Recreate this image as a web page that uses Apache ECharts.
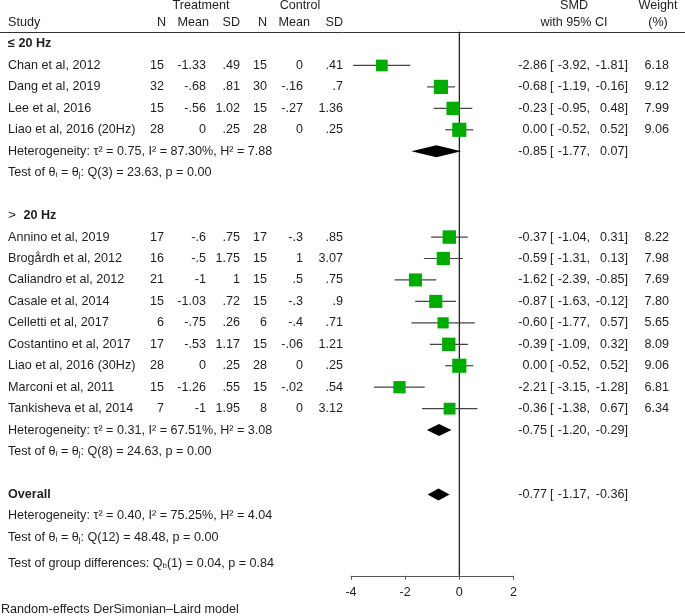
<!DOCTYPE html>
<html><head><meta charset="utf-8">
<script src="https://cdn.jsdelivr.net/npm/echarts@6/dist/echarts.min.js"></script>
<style>html,body{margin:0;padding:0;background:#fff}#c{width:685px;height:616px}</style>
</head><body><div id="c"></div>
<script>
// ---------------- data ----------------
const groupLabels = ['≤ 20 Hz', '> 20 Hz'];
const studies = ['Chan et al, 2012','Dang et al, 2019','Lee et al, 2016','Liao et al, 2016 (20Hz)',
  'Annino et al, 2019','Brogårdh et al, 2012','Caliandro et al, 2012','Casale et al, 2014',
  'Celletti et al, 2017','Costantino et al, 2017','Liao et al, 2016 (30Hz)','Marconi et al, 2011',
  'Tankisheva et al, 2014'];
const studyGroup = [0,0,0,0,1,1,1,1,1,1,1,1,1];
const trtN    = [15,32,15,28,17,16,21,15,6,17,28,15,7];
const trtMean = [-1.33,-0.68,-0.56,0,-0.6,-0.5,-1,-1.03,-0.75,-0.53,0,-1.26,-1];
const trtSD   = [0.49,0.81,1.02,0.25,0.75,1.75,1,0.72,0.26,1.17,0.25,0.55,1.95];
const ctlN    = [15,30,15,28,17,15,15,15,6,15,28,15,8];
const ctlMean = [0,-0.16,-0.27,0,-0.3,1,0.5,-0.3,-0.4,-0.06,0,-0.02,0];
const ctlSD   = [0.41,0.7,1.36,0.25,0.85,3.07,0.75,0.9,0.71,1.21,0.25,0.54,3.12];
const smd     = [-2.86,-0.68,-0.23,0.00,-0.37,-0.59,-1.62,-0.87,-0.60,-0.39,0.00,-2.21,-0.36];
const ciLow   = [-3.92,-1.19,-0.95,-0.52,-1.04,-1.31,-2.39,-1.63,-1.77,-1.09,-0.52,-3.15,-1.38];
const ciHigh  = [-1.81,-0.16,0.48,0.52,0.31,0.13,-0.85,-0.12,0.57,0.32,0.52,-1.28,0.67];
const weight  = [6.18,9.12,7.99,9.06,8.22,7.98,7.69,7.80,5.65,8.09,9.06,6.81,6.34];
const groupSMD  = [-0.85,-0.75];
const groupLow  = [-1.77,-1.20];
const groupHigh = [0.07,-0.29];
const overallSMD = -0.77, overallLow = -1.17, overallHigh = -0.36;
const hetText = ['Heterogeneity: τ² = 0.75, I² = 87.30%, H² = 7.88',
                 'Heterogeneity: τ² = 0.31, I² = 67.51%, H² = 3.08',
                 'Heterogeneity: τ² = 0.40, I² = 75.25%, H² = 4.04'];
const qText = ['Q(3) = 23.63, p = 0.00','Q(8) = 24.63, p = 0.00','Q(12) = 48.48, p = 0.00'];
const groupDiffText = '(1) = 0.04, p = 0.84';
const xTicks = [-4,-2,0,2];
const footnote = 'Random-effects DerSimonian–Laird model';

// ---------------- layout ----------------
const FONT = "'Liberation Sans', Arial, Helvetica, sans-serif";
const FS = 12.6;
const TXT = '#1e1e1e';
const ROW0 = 44, STEP = 21.45, TOP = 31.75, BOTTOM = 575.75;
const yMin = (TOP - ROW0) / STEP, yMax = (BOTTOM - ROW0) / STEP;
const COL = {name: 8, tN: 164, tM: 206, tS: 240, cN: 267, cM: 303, cS: 343,
             est: 547, br: 550, lo: 590, hi: 628, w: 669};

const fmtS = v => String(v).replace(/^(-?)0\./, '$1.');
const f2 = v => v.toFixed(2);

// build row list
const rows = [];
let r = 0;
[0, 1].forEach(g => {
  rows.push({row: r++, type: 'group', g});
  studies.forEach((s, i) => { if (studyGroup[i] === g) rows.push({row: r++, type: 'study', i}); });
  rows.push({row: r++, type: 'het', text: hetText[g], est: groupSMD[g], lo: groupLow[g], hi: groupHigh[g]});
  rows.push({row: r++, type: 'test', text: qText[g]});
  r++;
});
rows.push({row: r++, type: 'overall', est: overallSMD, lo: overallLow, hi: overallHigh});
rows.push({row: r++, type: 'het', text: hetText[2]});
rows.push({row: r++, type: 'test', text: qText[2]});
rows.push({row: r + 0.2, type: 'diff'});

const rich = {
  s: {fontSize: 8, fontFamily: FONT, fill: TXT, color: TXT, verticalAlign: 'bottom', padding: [4, 0, 0, 0]},
  b: {fontSize: FS, fontFamily: FONT, fontWeight: 'bold', color: TXT},
  n: {fontSize: FS + 1, fontFamily: FONT, color: TXT}
};

function T(x, y, text, align, extra) {
  return {type: 'text', x, y, silent: true,
    style: Object.assign({text, fill: TXT, fontSize: FS, fontFamily: FONT,
      align: align || 'left', verticalAlign: 'middle', rich}, extra || {})};
}
function ciTexts(y, est, lo, hi, children) {
  children.push(T(COL.est, y, f2(est), 'right'));
  children.push(T(COL.br, y, '[', 'left'));
  children.push(T(COL.lo, y, f2(lo) + ',', 'right'));
  children.push(T(COL.hi, y, f2(hi) + ']', 'right'));
}
function diamond(api, row, est, lo, hi, y) {
  const a = api.coord([lo, row])[0], c = api.coord([est, row])[0], b = api.coord([hi, row])[0];
  return {type: 'polygon', shape: {points: [[a, y], [c, y - 6], [b, y], [c, y + 6]]},
          style: {fill: '#000'}};
}

function renderRow(params, api) {
  const d = rows[params.dataIndex];
  const y = api.coord([0, d.row])[1];
  const ch = [];
  if (d.type === 'group') {
    if (d.g === 0) ch.push(T(COL.name, y, '{b|' + groupLabels[0] + '}'));
    else ch.push(T(COL.name, y, '{n|' + groupLabels[1].slice(0, 1) + '  }{b|' + groupLabels[1].slice(2) + '}'));
  } else if (d.type === 'study') {
    const i = d.i;
    ch.push(T(COL.name, y, studies[i]));
    ch.push(T(COL.tN, y, String(trtN[i]), 'right'));
    ch.push(T(COL.tM, y, fmtS(trtMean[i]), 'right'));
    ch.push(T(COL.tS, y, fmtS(trtSD[i]), 'right'));
    ch.push(T(COL.cN, y, String(ctlN[i]), 'right'));
    ch.push(T(COL.cM, y, fmtS(ctlMean[i]), 'right'));
    ch.push(T(COL.cS, y, fmtS(ctlSD[i]), 'right'));
    ciTexts(y, smd[i], ciLow[i], ciHigh[i], ch);
    ch.push(T(COL.w, y, f2(weight[i]), 'right'));
    const x1 = api.coord([ciLow[i], d.row])[0], x2 = api.coord([ciHigh[i], d.row])[0];
    const xc = api.coord([smd[i], d.row])[0];
    ch.push({type: 'line', shape: {x1, y1: y, x2, y2: y}, style: {stroke: '#444', lineWidth: 1.2}});
    const s = 4.7 * Math.sqrt(weight[i]);
    ch.push({type: 'rect', shape: {x: xc - s / 2, y: y - s / 2, width: s, height: s}, style: {fill: '#00AC00'}});
  } else if (d.type === 'het') {
    ch.push(T(COL.name, y, d.text));
    if (d.est !== undefined) {
      ch.push(diamond(api, d.row, d.est, d.lo, d.hi, y));
      ciTexts(y, d.est, d.lo, d.hi, ch);
    }
  } else if (d.type === 'test') {
    ch.push(T(COL.name, y, 'Test of θ{s|i} = θ{s|j}: ' + d.text));
  } else if (d.type === 'overall') {
    ch.push(T(COL.name, y, '{b|Overall}'));
    ch.push(diamond(api, d.row, d.est, d.lo, d.hi, y));
    ciTexts(y, d.est, d.lo, d.hi, ch);
  } else if (d.type === 'diff') {
    ch.push(T(COL.name, y, 'Test of group differences: Q{s|b}' + groupDiffText));
  }
  return {type: 'group', children: ch};
}

const chart = echarts.init(document.getElementById('c'), null, {renderer: 'canvas'});
chart.setOption({
  animation: false,
  backgroundColor: '#fff',
  grid: {left: 351, width: 162.5, top: TOP, height: BOTTOM - TOP, containLabel: false, outerBoundsMode: 'none'},
  xAxis: {type: 'value', min: xTicks[0], max: xTicks[xTicks.length - 1], interval: xTicks[1] - xTicks[0],
    splitLine: {show: false},
    axisLine: {show: true, onZero: false, lineStyle: {color: '#555', width: 1}},
    axisTick: {show: true, length: 4, lineStyle: {color: '#555'}},
    axisLabel: {fontSize: FS, fontFamily: FONT, color: TXT, margin: 10}},
  yAxis: {type: 'value', inverse: true, min: yMin, max: yMax, show: false},
  graphic: [
    {type: 'line', shape: {x1: 0, y1: 32.5, x2: 685, y2: 32.5}, style: {stroke: '#333', lineWidth: 1}},
    ...[['Treatment', 201, 6, 'center'], ['Control', 300, 6, 'center'], ['SMD', 574, 6, 'center'], ['Weight', 658, 6, 'center'],
        ['Study', 8, 23, 'left'], ['N', 166, 23, 'right'], ['Mean', 209, 23, 'right'], ['SD', 240, 23, 'right'],
        ['N', 267, 23, 'right'], ['Mean', 310, 23, 'right'], ['SD', 343, 23, 'right'],
        ['with 95% CI', 574, 23, 'center'], ['(%)', 658, 23, 'center'],
        [footnote, 1, 610, 'left']].map(h => ({type: 'text', x: h[1], y: h[2],
          style: {text: h[0], fill: TXT, fontSize: FS, fontFamily: FONT, align: h[3], verticalAlign: 'middle'}}))
  ],
  series: [
    {type: 'custom', z: 1, silent: true, data: [[0, 0]],
     renderItem: (p, api) => {
       const a = api.coord([0, yMin]), b = api.coord([0, yMax]);
       return {type: 'line', shape: {x1: a[0], y1: a[1], x2: b[0], y2: b[1]}, style: {stroke: '#111', lineWidth: 1.2}};
     }},
    {type: 'custom', z: 2, silent: true, data: rows.map(d => [0, d.row]), renderItem: renderRow}
  ]
});
</script></body></html>
